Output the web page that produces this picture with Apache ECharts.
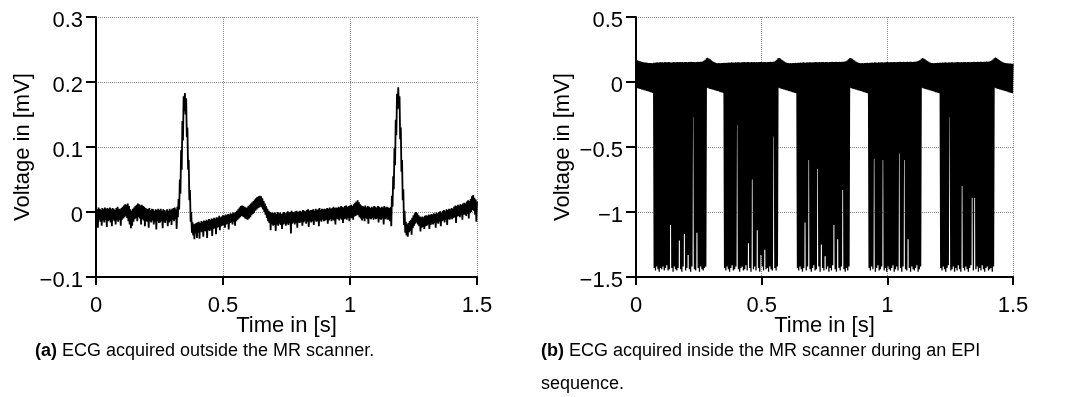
<!DOCTYPE html>
<html lang="en">
<head>
    <meta charset="UTF-8">
    <title>ECG outside / inside the MR scanner</title>
    <script src="https://cdn.jsdelivr.net/npm/echarts@6/dist/echarts.min.js"></script>
    <style>
        html, body { margin: 0; padding: 0; background: #fff; }
        #chart { width: 1067px; height: 397px; }
    </style>
</head>
<body>
<div id="chart"></div>
<script>
    // sample step of the read-off envelopes, in seconds
    const step = 0.005;

    // (a) ECG outside the scanner: upper / lower edge of the noisy trace, one value per 5 ms
    const ecgTop = [
        0.006, 0.004, 0.007, 0.005, 0.003, 0.006, 0.004, 0.007, 0.005, 0.006,
        0.005, 0.007, 0.004, 0.006, 0.005, 0.003, 0.006, 0.008, 0.005, 0.004,
        0.006, 0.008, 0.010, 0.012, 0.011, 0.013, 0.009, 0.004, 0.002, 0.005,
        0.007, 0.009, 0.011, 0.013, 0.012, 0.010, 0.011, 0.009, 0.008, 0.006,
        0.005, 0.004, 0.006, 0.003, 0.005, 0.004, 0.002, 0.004, 0.003, 0.005,
        0.003, 0.005, 0.002, 0.004, 0.003, 0.001, 0.004, 0.002, 0.005, 0.003,
        0.005, 0.006, 0.007, 0.004, 0.008, 0.020, 0.050, 0.095, 0.140, 0.178,
        0.183, 0.175, 0.130, 0.080, 0.034, 0.000, -0.016, -0.019, -0.018, -0.017,
        -0.016, -0.015, -0.017, -0.014, -0.015, -0.013, -0.014, -0.012, -0.013, -0.011,
        -0.012, -0.010, -0.011, -0.009, -0.010, -0.008, -0.009, -0.006, -0.008, -0.007,
        -0.005, -0.006, -0.004, -0.005, -0.003, -0.004, -0.002, -0.003, -0.001, -0.002,
        0.000, 0.002, 0.004, 0.007, 0.009, 0.010, 0.009, 0.008, 0.007, 0.007,
        0.009, 0.011, 0.013, 0.015, 0.017, 0.019, 0.021, 0.023, 0.024, 0.025,
        0.024, 0.021, 0.017, 0.013, 0.009, 0.005, 0.002, 0.000, -0.001, -0.001,
        -0.002, -0.001, -0.003, 0.000, -0.002, -0.001, -0.003, -0.002, 0.000, -0.002,
        -0.001, 0.001, -0.001, 0.000, 0.002, 0.000, -0.001, 0.001, 0.002, 0.000,
        0.001, 0.002, 0.000, 0.003, 0.002, 0.001, 0.003, 0.004, 0.002, 0.003,
        0.003, 0.004, 0.002, 0.005, 0.003, 0.004, 0.006, 0.003, 0.005, 0.004,
        0.005, 0.004, 0.006, 0.005, 0.007, 0.005, 0.006, 0.008, 0.006, 0.007,
        0.006, 0.008, 0.007, 0.009, 0.008, 0.007, 0.009, 0.010, 0.008, 0.009,
        0.010, 0.011, 0.009, 0.012, 0.014, 0.016, 0.018, 0.015, 0.012, 0.010,
        0.009, 0.008, 0.010, 0.007, 0.009, 0.008, 0.006, 0.008, 0.007, 0.009,
        0.008, 0.007, 0.009, 0.008, 0.006, 0.008, 0.007, 0.009, 0.007, 0.008,
        0.007, 0.006, 0.008, 0.025, 0.055, 0.098, 0.142, 0.182, 0.192, 0.178,
        0.130, 0.080, 0.035, 0.002, -0.015, -0.019, -0.017, -0.014, -0.012, -0.009,
        -0.005, -0.002, 0.000, -0.002, -0.005, -0.007, -0.008, -0.007, -0.008, -0.006,
        -0.005, -0.006, -0.004, -0.005, -0.003, -0.004, -0.002, -0.003, -0.001, -0.002,
        0.000, 0.001, -0.001, 0.002, 0.003, 0.001, 0.004, 0.003, 0.005, 0.004,
        0.006, 0.005, 0.008, 0.010, 0.009, 0.011, 0.010, 0.012, 0.011, 0.013,
        0.014, 0.013, 0.016, 0.018, 0.017, 0.020, 0.024, 0.026, 0.022, 0.019,
        0.016
    ];
    const ecgLow = [
        -0.014, -0.024, -0.012, -0.015, -0.021, -0.013, -0.016, -0.012, -0.023, -0.014,
        -0.013, -0.016, -0.022, -0.012, -0.014, -0.019, -0.013, -0.015, -0.012, -0.021,
        -0.012, -0.010, -0.008, -0.006, -0.009, -0.014, -0.019, -0.025, -0.021, -0.015,
        -0.011, -0.009, -0.014, -0.008, -0.010, -0.019, -0.011, -0.013, -0.022, -0.014,
        -0.015, -0.024, -0.014, -0.016, -0.013, -0.019, -0.015, -0.027, -0.014, -0.017,
        -0.016, -0.014, -0.025, -0.015, -0.017, -0.013, -0.022, -0.016, -0.014, -0.020,
        -0.012, -0.014, -0.011, -0.026, -0.008, 0.004, 0.028, 0.065, 0.110, 0.155,
        0.150, 0.115, 0.065, 0.018, -0.015, -0.032, -0.036, -0.042, -0.033, -0.040,
        -0.032, -0.041, -0.030, -0.031, -0.038, -0.029, -0.030, -0.040, -0.028, -0.029,
        -0.027, -0.037, -0.026, -0.025, -0.034, -0.024, -0.023, -0.028, -0.022, -0.021,
        -0.020, -0.024, -0.019, -0.018, -0.027, -0.017, -0.016, -0.019, -0.015, -0.021,
        -0.014, -0.012, -0.010, -0.008, -0.006, -0.007, -0.008, -0.010, -0.011, -0.012,
        -0.010, -0.008, -0.005, -0.003, -0.001, 0.002, 0.004, 0.006, 0.007, 0.008,
        0.007, 0.004, 0.000, -0.004, -0.009, -0.014, -0.017, -0.028, -0.019, -0.021,
        -0.020, -0.029, -0.019, -0.021, -0.018, -0.020, -0.026, -0.019, -0.018, -0.021,
        -0.018, -0.020, -0.017, -0.033, -0.018, -0.016, -0.019, -0.017, -0.024, -0.016,
        -0.017, -0.015, -0.021, -0.016, -0.014, -0.018, -0.015, -0.023, -0.014, -0.016,
        -0.014, -0.020, -0.013, -0.015, -0.014, -0.022, -0.013, -0.015, -0.012, -0.014,
        -0.013, -0.012, -0.018, -0.013, -0.011, -0.014, -0.012, -0.013, -0.019, -0.011,
        -0.011, -0.013, -0.010, -0.012, -0.017, -0.011, -0.010, -0.012, -0.009, -0.014,
        -0.010, -0.009, -0.012, -0.007, -0.006, -0.004, -0.005, -0.008, -0.010, -0.013,
        -0.010, -0.014, -0.009, -0.011, -0.018, -0.010, -0.011, -0.009, -0.012, -0.010,
        -0.011, -0.010, -0.016, -0.011, -0.012, -0.010, -0.019, -0.011, -0.010, -0.012,
        -0.012, -0.014, -0.022, 0.008, 0.035, 0.072, 0.118, 0.158, 0.160, 0.112,
        0.062, 0.018, -0.020, -0.032, -0.036, -0.038, -0.031, -0.029, -0.035, -0.025,
        -0.021, -0.018, -0.016, -0.019, -0.022, -0.030, -0.024, -0.023, -0.026, -0.022,
        -0.021, -0.019, -0.026, -0.020, -0.018, -0.019, -0.017, -0.024, -0.016, -0.018,
        -0.015, -0.022, -0.014, -0.013, -0.016, -0.012, -0.020, -0.011, -0.012, -0.010,
        -0.011, -0.009, -0.008, -0.017, -0.007, -0.006, -0.008, -0.005, -0.012, -0.004,
        -0.004, -0.006, -0.003, -0.010, -0.002, 0.000, 0.003, 0.002, -0.004, -0.015
    ];

    // (b) ECG inside the scanner during EPI: upper / lower edge of the gradient artefact
    const epiTop = [
        0.172, 0.168, 0.164, 0.160, 0.157, 0.154, 0.152, 0.150, 0.149, 0.148,
        0.147, 0.146, 0.147, 0.145, 0.148, 0.149, 0.150, 0.151, 0.150, 0.152,
        0.151, 0.152, 0.150, 0.153, 0.152, 0.151, 0.153, 0.152, 0.150, 0.152,
        0.153, 0.151, 0.152, 0.154, 0.152, 0.153, 0.151, 0.153, 0.152, 0.154,
        0.153, 0.152, 0.154, 0.153, 0.155, 0.153, 0.154, 0.152, 0.154, 0.155,
        0.154, 0.156, 0.155, 0.158, 0.163, 0.172, 0.182, 0.186, 0.181, 0.174,
        0.167, 0.160, 0.154, 0.149, 0.146, 0.145, 0.146, 0.145, 0.147, 0.146,
        0.148, 0.147, 0.149, 0.148, 0.150, 0.149, 0.151, 0.150, 0.149, 0.151,
        0.150, 0.152, 0.151, 0.150, 0.152, 0.151, 0.153, 0.152, 0.151, 0.153,
        0.152, 0.151, 0.153, 0.152, 0.154, 0.152, 0.153, 0.151, 0.153, 0.154,
        0.153, 0.152, 0.154, 0.153, 0.152, 0.154, 0.153, 0.155, 0.154, 0.156,
        0.158, 0.163, 0.172, 0.182, 0.185, 0.180, 0.172, 0.165, 0.158, 0.152,
        0.148, 0.146, 0.145, 0.146, 0.145, 0.147, 0.146, 0.148, 0.147, 0.149,
        0.148, 0.150, 0.149, 0.151, 0.150, 0.149, 0.151, 0.150, 0.152, 0.151,
        0.150, 0.152, 0.151, 0.153, 0.152, 0.151, 0.153, 0.152, 0.154, 0.153,
        0.152, 0.154, 0.153, 0.152, 0.154, 0.153, 0.155, 0.154, 0.153, 0.155,
        0.154, 0.153, 0.155, 0.154, 0.156, 0.155, 0.157, 0.160, 0.166, 0.175,
        0.182, 0.184, 0.179, 0.172, 0.165, 0.158, 0.152, 0.148, 0.146, 0.145,
        0.146, 0.145, 0.147, 0.146, 0.148, 0.147, 0.149, 0.148, 0.150, 0.149,
        0.151, 0.150, 0.149, 0.151, 0.150, 0.152, 0.151, 0.150, 0.152, 0.151,
        0.153, 0.152, 0.151, 0.153, 0.152, 0.154, 0.153, 0.152, 0.154, 0.153,
        0.155, 0.154, 0.153, 0.155, 0.154, 0.153, 0.155, 0.154, 0.156, 0.155,
        0.154, 0.156, 0.155, 0.157, 0.159, 0.163, 0.170, 0.179, 0.184, 0.181,
        0.175, 0.168, 0.161, 0.155, 0.150, 0.147, 0.146, 0.145, 0.147, 0.146,
        0.148, 0.147, 0.149, 0.148, 0.150, 0.149, 0.151, 0.150, 0.149, 0.151,
        0.150, 0.152, 0.151, 0.150, 0.152, 0.151, 0.153, 0.152, 0.151, 0.153,
        0.152, 0.154, 0.153, 0.152, 0.154, 0.153, 0.152, 0.154, 0.153, 0.155,
        0.154, 0.153, 0.155, 0.154, 0.156, 0.155, 0.154, 0.156, 0.155, 0.157,
        0.156, 0.158, 0.161, 0.166, 0.174, 0.183, 0.188, 0.184, 0.177, 0.170,
        0.163, 0.157, 0.152, 0.148, 0.146, 0.145, 0.144, 0.143, 0.142, 0.141,
        0.140
    ];
    const epiLow = [
        -0.045, -0.048, -0.051, -0.054, -0.057, -0.060, -0.063, -0.066, -0.069, -0.072,
        -0.075, -0.078, -0.081, -0.084, -1.43, -1.45, -1.42, -1.44, -1.46, -1.43,
        -1.44, -1.42, -1.45, -1.43, -1.41, -1.45, -1.44, -1.10, -1.43, -1.46,
        -1.42, -1.44, -1.45, -1.43, -1.22, -1.44, -1.46, -1.42, -1.17, -1.45,
        -1.43, -1.33, -1.44, -1.46, -1.42, -0.27, -1.44, -1.45, -1.16, -1.43,
        -1.46, -1.42, -1.44, -1.45, -1.43, -1.42, -0.045, -0.048, -0.051, -0.054,
        -0.057, -0.060, -0.063, -0.066, -0.069, -0.072, -0.075, -0.078, -0.081, -0.084,
        -1.43, -1.45, -1.42, -1.44, -1.46, -1.43, -1.41, -1.45, -1.44, -1.42,
        -0.33, -1.44, -1.46, -1.43, -1.42, -1.45, -1.44, -1.41, -1.45, -1.24,
        -1.43, -1.46, -0.75, -1.44, -1.42, -1.45, -1.14, -1.43, -1.46, -1.33,
        -1.42, -1.45, -1.29, -1.44, -1.43, -1.46, -1.42, -1.44, -1.45, -0.42,
        -1.43, -1.45, -1.42, -0.045, -0.048, -0.051, -0.054, -0.057, -0.060, -0.063,
        -0.066, -0.069, -0.072, -0.075, -0.078, -0.081, -0.084, -0.087, -1.43, -1.45,
        -1.42, -1.44, -1.46, -1.43, -1.08, -1.45, -1.42, -0.60, -1.44, -1.46,
        -1.43, -1.41, -1.45, -1.44, -0.67, -1.42, -1.46, -1.25, -1.43, -1.45,
        -1.34, -1.44, -1.42, -1.46, -1.43, -1.45, -1.41, -1.10, -1.44, -1.46,
        -1.21, -1.43, -1.45, -1.42, -0.83, -1.44, -1.46, -1.43, -1.45, -1.42,
        -0.045, -0.048, -0.051, -0.054, -0.057, -0.060, -0.063, -0.066, -0.069, -0.072,
        -0.075, -0.078, -0.081, -0.084, -0.087, -1.43, -1.45, -1.42, -1.44, -0.59,
        -1.46, -1.43, -1.41, -1.45, -1.44, -1.42, -0.60, -1.45, -1.43, -1.46,
        -1.42, -1.44, -1.45, -1.43, -1.41, -1.46, -1.44, -1.42, -1.45, -0.55,
        -1.43, -1.46, -1.42, -0.60, -1.44, -1.45, -1.21, -1.43, -1.46, -1.42,
        -1.44, -1.45, -1.43, -1.41, -1.46, -1.44, -1.42, -0.045, -0.048, -0.051,
        -0.054, -0.057, -0.060, -0.063, -0.066, -0.069, -0.072, -0.075, -0.078, -0.081,
        -0.084, -0.087, -1.43, -1.45, -1.42, -1.44, -1.46, -1.43, -1.41, -0.27,
        -1.45, -1.44, -1.42, -1.46, -1.43, -1.45, -1.41, -1.44, -1.46, -0.80,
        -1.43, -1.45, -1.42, -1.44, -1.46, -1.43, -1.41, -0.89, -1.45, -0.89,
        -1.44, -1.42, -1.46, -1.43, -1.45, -1.41, -1.44, -1.46, -1.43, -1.42,
        -1.45, -1.44, -1.43, -1.46, -1.42, -0.045, -0.048, -0.051, -0.054, -0.057,
        -0.060, -0.063, -0.066, -0.069, -0.072, -0.075, -0.078, -0.081, -0.084, -0.087
    ];

    const xTicks = { min: 0, max: 1.5, interval: 0.5 };
    const yTicksA = { min: -0.1, max: 0.3, interval: 0.1 };
    const yTicksB = { min: -1.5, max: 0.5, interval: 0.5 };
    const captionA = 'ECG acquired outside the MR scanner.';
    const captionB1 = 'ECG acquired inside the MR scanner during an EPI';
    const captionB2 = 'sequence.';

    // the trace swings between both edges: top at t, bottom half a step later
    function zigzag(top, low) {
        const pts = [];
        for (let i = 0; i < top.length; i++) {
            pts.push([+(i * step).toFixed(4), top[i]]);
            if (i < low.length) pts.push([+(i * step + step / 2).toFixed(4), low[i]]);
        }
        return pts;
    }

    const font = "'Liberation Sans', Arial, sans-serif";
    const fmt = v => String(Math.round(v * 100) / 100).replace('-', '\u2212');

    function xAxis(gridIndex) {
        return {
            gridIndex, type: 'value', ...xTicks,
            name: 'Time in [s]', nameLocation: 'middle', nameGap: 38, nameMoveOverlap: false,
            nameTextStyle: { color: '#000', fontSize: 22, fontFamily: font },
            axisLine: { onZero: false, lineStyle: { color: '#000', width: 2 } },
            axisTick: { length: 8, lineStyle: { color: '#000', width: 2 } },
            axisLabel: { color: '#000', fontSize: 22, fontFamily: font, margin: 18,
                showMinLabel: true, showMaxLabel: true, formatter: fmt },
            splitLine: { show: true, lineStyle: { type: 'dotted', color: '#8a8a8a', width: 1 } }
        };
    }
    function yAxis(gridIndex, ticks) {
        return {
            gridIndex, type: 'value', ...ticks,
            name: 'Voltage in [mV]', nameLocation: 'middle', nameGap: 62, nameRotate: 90,
            nameMoveOverlap: false,
            nameTextStyle: { color: '#000', fontSize: 22, fontFamily: font },
            axisLine: { show: true, onZero: false, lineStyle: { color: '#000', width: 2 } },
            axisTick: { show: true, length: 10, lineStyle: { color: '#000', width: 2 } },
            axisLabel: { color: '#000', fontSize: 22, fontFamily: font, margin: 13,
                verticalAlign: 'top', lineHeight: 8, formatter: fmt },
            splitLine: { show: true, lineStyle: { type: 'dotted', color: '#8a8a8a', width: 1 } }
        };
    }
    function trace(idx, data, width) {
        return {
            type: 'line', xAxisIndex: idx, yAxisIndex: idx, data,
            showSymbol: false, symbol: 'none', clip: true, silent: true,
            lineStyle: { color: '#000', width }
        };
    }

    const capFont = "'Liberation Sans', Arial, sans-serif";
    function caption(left, top, text) {
        return {
            type: 'text', left, top,
            style: {
                text, fill: '#000', fontSize: 18, fontFamily: capFont,
                rich: { b: { fontWeight: 'bold', fontSize: 18, fontFamily: capFont, fill: '#000' } }
            }
        };
    }

    const chart = echarts.init(document.getElementById('chart'), null, { renderer: 'canvas' });
    chart.setOption({
        animation: false,
        backgroundColor: '#fff',
        grid: [
            { left: 96, top: 17, width: 381, height: 260 },
            { left: 636, top: 17, width: 377, height: 260 }
        ],
        xAxis: [xAxis(0), xAxis(1)],
        yAxis: [yAxis(0, yTicksA), yAxis(1, yTicksB)],
        series: [trace(0, zigzag(ecgTop, ecgLow), 1.8), trace(1, zigzag(epiTop, epiLow), 1.3)],
        graphic: [
            caption(35, 342, '{b|(a)} ' + captionA),
            caption(541, 342, '{b|(b)} ' + captionB1),
            caption(541, 375, captionB2)
        ]
    });
</script>
</body>
</html>
